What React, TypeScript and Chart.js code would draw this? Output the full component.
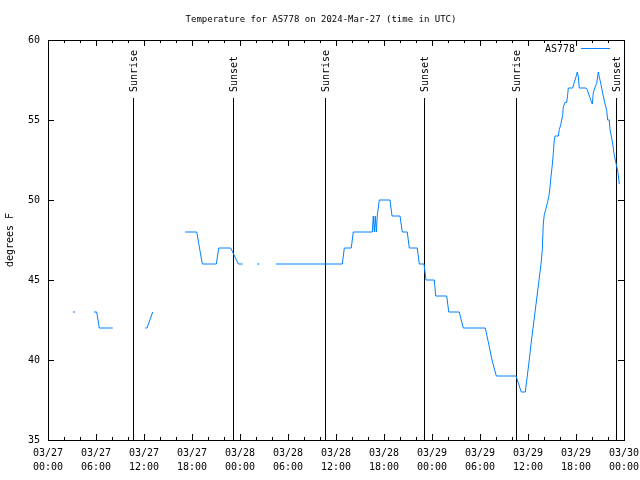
import { useEffect, useRef } from 'react';
import { Chart, registerables } from 'chart.js';

Chart.register(...registerables);

const FONT = '"DejaVu Sans Mono", "Liberation Mono", monospace';
const LINE_COLOR = 'rgb(0,128,255)';

const chartTitle = 'Temperature for AS778 on 2024-Mar-27 (time in UTC)';
const yAxisTitle = 'degrees F';
const seriesName = 'AS778';

// hours since 2024-03-27 00:00 UTC; null temperature = gap in the record
const hours = [
  3.25, 4.5, 5.75, 6.09, 6.41, 8.09, 10.0, 12.16, 12.38, 13.09, 15.0,
  17.13, 18.59, 19.29, 21.04, 21.34, 22.84, 23.79, 24.34, 25.3, 26.29, 27.4,
  28.5, 36.79, 37.04, 37.91, 38.16, 40.54, 40.66, 40.79, 40.91, 41.04, 41.16,
  41.41, 42.75, 43.0, 44.0, 44.29, 44.91, 45.16, 46.16, 46.41, 47.0, 47.25,
  48.29, 48.46, 49.84, 50.09, 51.41, 51.91, 54.66, 55.09, 55.5, 56.04, 58.5,
  59.16, 59.66, 60.16, 60.38, 60.63, 60.88, 61.13, 61.38, 61.63, 61.79, 61.91,
  62.04, 62.21, 62.46, 62.63, 62.75, 62.88, 63.04, 63.16, 63.29, 63.38, 63.79,
  63.91, 64.09, 64.21, 64.34, 64.41, 64.63, 64.84, 64.96, 65.04, 65.59, 65.75,
  66.0, 66.16, 66.29, 66.41, 67.25, 67.41, 67.59, 67.75, 67.88, 68.04, 68.16,
  68.34, 68.59, 68.79, 68.91, 69.09, 69.25, 69.41, 69.63, 69.84, 69.96, 70.16,
  70.25, 70.41, 70.59, 70.75, 70.91, 71.09, 71.25, 71.41,
];
const temps: (number | null)[] = [
  43, null, 43, 43, 42, 42, null, 42, 42, 43, null,
  48, 48, 46, 46, 47, 47, 46, 46, null, 46, null,
  46, 46, 47, 47, 48, 48, 49, 48, 49, 48, 49,
  50, 50, 49, 49, 48, 48, 47, 47, 46, 46, 45,
  45, 44, 44, 43, 43, 42, 42, 41, 40, 39, 39,
  38, 38, 40, 41, 42, 43, 44, 45, 46, 46.9, 48.5,
  49.1, 49.4, 49.9, 50.3, 50.8, 51.5, 52.2, 52.9, 53.75, 54, 54,
  54.4, 54.7, 55, 55.3, 55.8, 56.1, 56.1, 56.6, 57, 57, 57.3,
  57.7, 58, 57.7, 57, 57, 56.9, 56.6, 56.4, 56.2, 56, 56.7,
  57, 57.3, 58, 57.7, 57.3, 56.9, 56.5, 56, 55.6, 55, 55,
  54.4, 54, 53.5, 52.9, 52.5, 52.1, 51.7, 51,
];

const xTickHours = [0, 6, 12, 18, 24, 30, 36, 42, 48, 54, 60, 66, 72];
const xTickDates = ['03/27', '03/27', '03/27', '03/27', '03/28', '03/28', '03/28', '03/28', '03/29', '03/29', '03/29', '03/29', '03/30'];
const xTickTimes = ['00:00', '06:00', '12:00', '18:00', '00:00', '06:00', '12:00', '18:00', '00:00', '06:00', '12:00', '18:00', '00:00'];
const yTicks = [35, 40, 45, 50, 55, 60];

const eventHours = [10.63, 23.13, 34.63, 47.0, 58.5, 71.0];
const eventLabels = ['Sunrise', 'Sunset', 'Sunrise', 'Sunset', 'Sunrise', 'Sunset'];

const overlay = {
  id: 'gnuplotOverlay',
  beforeDatasetsDraw(chart: any) {
    const ctx = chart.ctx;
    const xs = chart.scales.x;
    const area = chart.chartArea;
    ctx.save();
    ctx.strokeStyle = '#000';
    ctx.lineWidth = 1;
    ctx.fillStyle = '#000';
    ctx.font = `10px ${FONT}`;
    eventHours.forEach((h, i) => {
      const x = Math.round(xs.getPixelForValue(h)) + 0.5;
      ctx.beginPath();
      ctx.moveTo(x, 98);
      ctx.lineTo(x, area.bottom);
      ctx.stroke();
      ctx.save();
      ctx.translate(x + 0.5, 92);
      ctx.rotate(-Math.PI / 2);
      ctx.textAlign = 'left';
      ctx.textBaseline = 'middle';
      ctx.fillText(eventLabels[i], 0, 0);
      ctx.restore();
    });
    ctx.restore();
  },
  afterDraw(chart: any) {
    const ctx = chart.ctx;
    const xs = chart.scales.x;
    const ys = chart.scales.y;
    const a = chart.chartArea;
    ctx.save();
    ctx.strokeStyle = '#000';
    ctx.lineWidth = 1;
    // frame
    ctx.strokeRect(Math.round(a.left) + 0.5, Math.round(a.top) + 0.5, Math.round(a.right - a.left), Math.round(a.bottom - a.top));
    // x ticks every 2 hours
    ctx.beginPath();
    for (let h = 0; h <= 72; h += 2) {
      const x = Math.round(xs.getPixelForValue(h)) + 0.5;
      const len = xTickHours.includes(h) ? 6 : 3;
      ctx.moveTo(x, a.bottom);
      ctx.lineTo(x, a.bottom - len);
      ctx.moveTo(x, a.top);
      ctx.lineTo(x, a.top + len);
    }
    yTicks.forEach((v) => {
      const y = Math.round(ys.getPixelForValue(v)) + 0.5;
      ctx.moveTo(a.left, y);
      ctx.lineTo(a.left + 6, y);
      ctx.moveTo(a.right, y);
      ctx.lineTo(a.right - 6, y);
    });
    ctx.stroke();
    // title
    ctx.fillStyle = '#000';
    ctx.font = `9px ${FONT}`;
    ctx.textAlign = 'center';
    ctx.textBaseline = 'middle';
    ctx.fillText(chartTitle, 321, 19.5);
    // y axis title
    ctx.save();
    ctx.font = `10px ${FONT}`;
    ctx.translate(10, 240);
    ctx.rotate(-Math.PI / 2);
    ctx.fillText(yAxisTitle, 0, 0);
    ctx.restore();
    // legend
    ctx.font = `10px ${FONT}`;
    ctx.textAlign = 'right';
    ctx.fillText(seriesName, 575, 49);
    ctx.strokeStyle = LINE_COLOR;
    ctx.beginPath();
    ctx.moveTo(581, 48.5);
    ctx.lineTo(610, 48.5);
    ctx.stroke();
    ctx.restore();
  },
};

export default function App() {
  const ref = useRef<HTMLCanvasElement>(null);
  useEffect(() => {
    const points = hours.map((h, i) => ({ x: h, y: temps[i] }));
    const chart = new Chart(ref.current as HTMLCanvasElement, {
      type: 'line',
      data: {
        datasets: [
          {
            label: seriesName,
            data: points as any,
            borderColor: LINE_COLOR,
            backgroundColor: LINE_COLOR,
            borderWidth: 1,
            tension: 0,
            spanGaps: false,
            pointStyle: 'rect',
            pointBorderWidth: 0,
            pointRadius: (c: any) => {
              const i = c.dataIndex;
              const prev = i > 0 ? temps[i - 1] : null;
              const next = i < temps.length - 1 ? temps[i + 1] : null;
              return temps[i] !== null && prev === null && next === null ? 1 : 0;
            },
          },
        ],
      },
      options: {
        animation: false,
        responsive: false,
        maintainAspectRatio: false,
        layout: { padding: { left: 0, right: 16, top: 40, bottom: 0 } },
        plugins: {
          legend: { display: false },
          title: { display: false },
          tooltip: { enabled: false },
        },
        scales: {
          x: {
            type: 'linear',
            min: 0,
            max: 72,
            afterBuildTicks: (s: any) => {
              s.ticks = xTickHours.map((v) => ({ value: v }));
            },
            afterFit: (s: any) => {
              s.height = 40;
              s.paddingLeft = 0;
              s.paddingRight = 0;
            },
            grid: { display: false, drawTicks: false },
            border: { display: false },
            ticks: {
              autoSkip: false,
              maxRotation: 0,
              minRotation: 0,
              padding: 6,
              color: '#000',
              font: { family: FONT, size: 10, lineHeight: '14px' } as any,
              callback: (v: any) => {
                const i = xTickHours.indexOf(Number(v));
                return i >= 0 ? [xTickDates[i], xTickTimes[i]] : '';
              },
            },
          },
          y: {
            min: 35,
            max: 60,
            afterBuildTicks: (s: any) => {
              s.ticks = yTicks.map((v) => ({ value: v }));
            },
            afterFit: (s: any) => {
              s.width = 48;
              s.paddingTop = 0;
              s.paddingBottom = 0;
            },
            grid: { display: false, drawTicks: false },
            border: { display: false },
            ticks: {
              padding: 8,
              color: '#000',
              font: { family: FONT, size: 10 },
            },
          },
        },
      },
      plugins: [overlay],
    });
    return () => chart.destroy();
  }, []);
  return (
    <div style={{ position: 'fixed', left: 0, top: 0, width: 640, height: 480, background: '#fff' }}>
      <canvas ref={ref} width={640} height={480} style={{ display: 'block' }} />
    </div>
  );
}
